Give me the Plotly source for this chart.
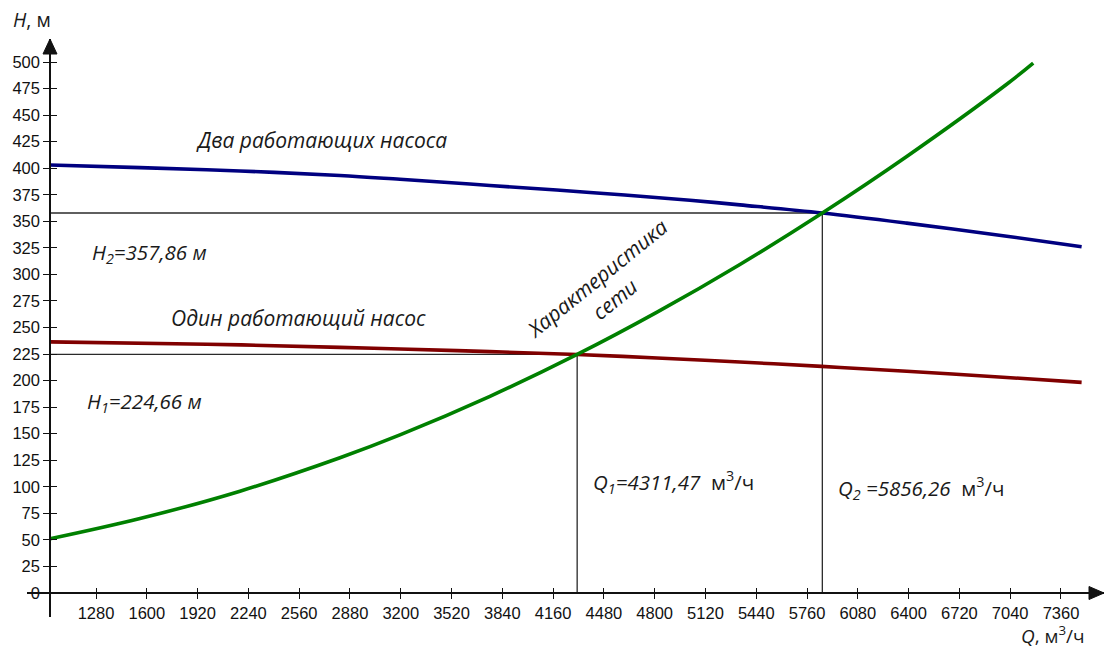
import plotly.graph_objects as go

# ---------------- data ----------------
Q_net = [990, 1557, 2187, 2817, 3195, 3762, 4311.47, 4815, 5337, 5856.26, 6388, 7018, 7185]
H_net = [51.0, 70.1, 95.9, 127.4, 148.9, 185.2, 224.66, 264.5, 309.4, 357.86, 411.1, 479.1, 499.0]

Q_two = [990, 1557, 2187, 2817, 3195, 3762, 4392, 5022, 5337, 5856.26, 6388, 7018, 7490]
H_two = [403.0, 400.6, 397.4, 393.2, 389.6, 383.8, 377.2, 369.9, 365.5, 357.86, 348.3, 336.0, 326.1]

Q_one = [990, 1979, 2817, 3195, 3762, 4311.47, 4815, 5337, 5852, 6388, 7018, 7490]
H_one = [236.5, 234.3, 231.3, 229.8, 227.3, 224.66, 221.3, 217.5, 213.4, 208.8, 203.0, 198.3]

Q1, H1 = 4311.47, 224.66
Q2, H2 = 5856.26, 357.86

X_TICKS = list(range(1280, 7361, 320))
Y_TICKS = list(range(0, 501, 25))

# ---------------- layout constants ----------------
W, H = 1114, 652
L, R, T, B = 27, 10, 39, 35
Q_AXIS = 990           # where the vertical axis stands
Q_MIN, Q_MAX = 845, 7631
H_MIN, H_MAX = -22.6, 521.7

pos_y = (Q_AXIS - Q_MIN) / (Q_MAX - Q_MIN)
pos_x = (0 - H_MIN) / (H_MAX - H_MIN)

TXT = "#1a1a1a"
AX = "#111111"
ANN_FONT = "Open Sans"
TICK_FONT = dict(family="Liberation Sans", size=16.5, color=AX)

fig = go.Figure()

# helper lines
helper = dict(mode="lines", line=dict(color="#2a2a2a", width=1.3), hoverinfo="skip", showlegend=False)
fig.add_trace(go.Scatter(x=[Q_AXIS, Q2], y=[H2, H2], **helper))
fig.add_trace(go.Scatter(x=[Q2, Q2], y=[0, H2], **helper))
fig.add_trace(go.Scatter(x=[Q_AXIS, Q1], y=[H1, H1], **helper))
fig.add_trace(go.Scatter(x=[Q1, Q1], y=[0, H1], **helper))

# curves
fig.add_trace(go.Scatter(x=Q_two, y=H_two, mode="lines", showlegend=False,
                         line=dict(color="#000080", width=3.6, shape="spline", smoothing=1.0)))
fig.add_trace(go.Scatter(x=Q_one, y=H_one, mode="lines", showlegend=False,
                         line=dict(color="#800000", width=3.6, shape="spline", smoothing=1.0)))
fig.add_trace(go.Scatter(x=Q_net, y=H_net, mode="lines", showlegend=False,
                         line=dict(color="#008000", width=3.6, shape="spline", smoothing=1.0)))

# dummy trace on overlay axes so inside ticks are drawn
fig.add_trace(go.Scatter(x=[None], y=[None], xaxis="x2", yaxis="y2", showlegend=False))

axis_common = dict(showgrid=False, zeroline=False, showline=True, linecolor=AX, linewidth=1.6,
                   ticks="outside", tickcolor=AX, tickwidth=1.3, tickfont=TICK_FONT)

fig.update_layout(
    width=W, height=H,
    margin=dict(l=L, r=R, t=T, b=B, pad=0),
    paper_bgcolor="white", plot_bgcolor="white",
    xaxis=dict(range=[Q_MIN, Q_MAX], domain=[0, 1], anchor="free", position=pos_x,
               tickvals=X_TICKS, ticktext=[str(v) for v in X_TICKS], ticklen=5, **axis_common),
    yaxis=dict(range=[H_MIN, H_MAX], domain=[0, 1], anchor="free", position=pos_y,
               tickvals=Y_TICKS, ticktext=[str(v) for v in Y_TICKS], ticklen=6, **axis_common),
    xaxis2=dict(overlaying="x", matches="x", anchor="free", position=pos_x, showgrid=False,
                zeroline=False, showline=False, ticks="inside", ticklen=5, tickwidth=1.3,
                tickcolor=AX, tickvals=X_TICKS, showticklabels=False),
    yaxis2=dict(overlaying="y", matches="y", anchor="free", position=pos_y, showgrid=False,
                zeroline=False, showline=False, ticks="inside", ticklen=6, tickwidth=1.3,
                tickcolor=AX, tickvals=Y_TICKS, showticklabels=False),
)

# arrow heads (pixel-sized triangles anchored at the axis ends)
fig.add_shape(type="path", xref="x", yref="y", xsizemode="pixel", ysizemode="pixel",
              xanchor=Q_AXIS, yanchor=H_MAX, path="M -7,-15 L 7,-15 L 0,0 Z",
              fillcolor=AX, line=dict(color=AX, width=1))
fig.add_shape(type="path", xref="x", yref="y", xsizemode="pixel", ysizemode="pixel",
              xanchor=Q_MAX, yanchor=0, path="M -15,-6.5 L -15,6.5 L 0,0 Z",
              fillcolor=AX, line=dict(color=AX, width=1))

def ann(x, y, text, size=20.5, xanchor="left", angle=0, xref="x", yref="y", family=ANN_FONT):
    fig.add_annotation(x=x, y=y, xref=xref, yref=yref, text=text, showarrow=False,
                       xanchor=xanchor, yanchor="middle", textangle=angle,
                       font=dict(family=family, size=size, color=TXT))

ann(1900, 426.6, "<i>Два работающих насоса</i>", size=21)
ann(1740, 259, "<i>Один работающий насос</i>", size=21)
ann(1240, 320, "<i>H<sub>2</sub>=357,86 м</i>")
ann(1210, 179.8, "<i>H<sub>1</sub>=224,66 м</i>")
ann(4490, 287, "<i>Характеристика<br>сети</i>", xanchor="center", angle=-39, size=21)
ann(4400, 104.5, "<i>Q<sub>1</sub>=4311,47</i>  м<sup>3</sup>/ч")
ann(5940, 99, "<i>Q<sub>2</sub> =5856,26</i>  м<sup>3</sup>/ч")

# axis titles (paper coordinates)
ann((11 - L) / (W - L - R), (H - B - 19.5) / (H - T - B), "<i>H</i>, м", size=19.5, xref="paper", yref="paper")
ann((1019 - L) / (W - L - R), (H - B - 635) / (H - T - B), "<i>Q</i>, м<sup>3</sup>/ч", size=19,
    xref="paper", yref="paper")

fig.write_html("out.html", config={"displayModeBar": False},
               post_script="document.body.style.margin='0';")
